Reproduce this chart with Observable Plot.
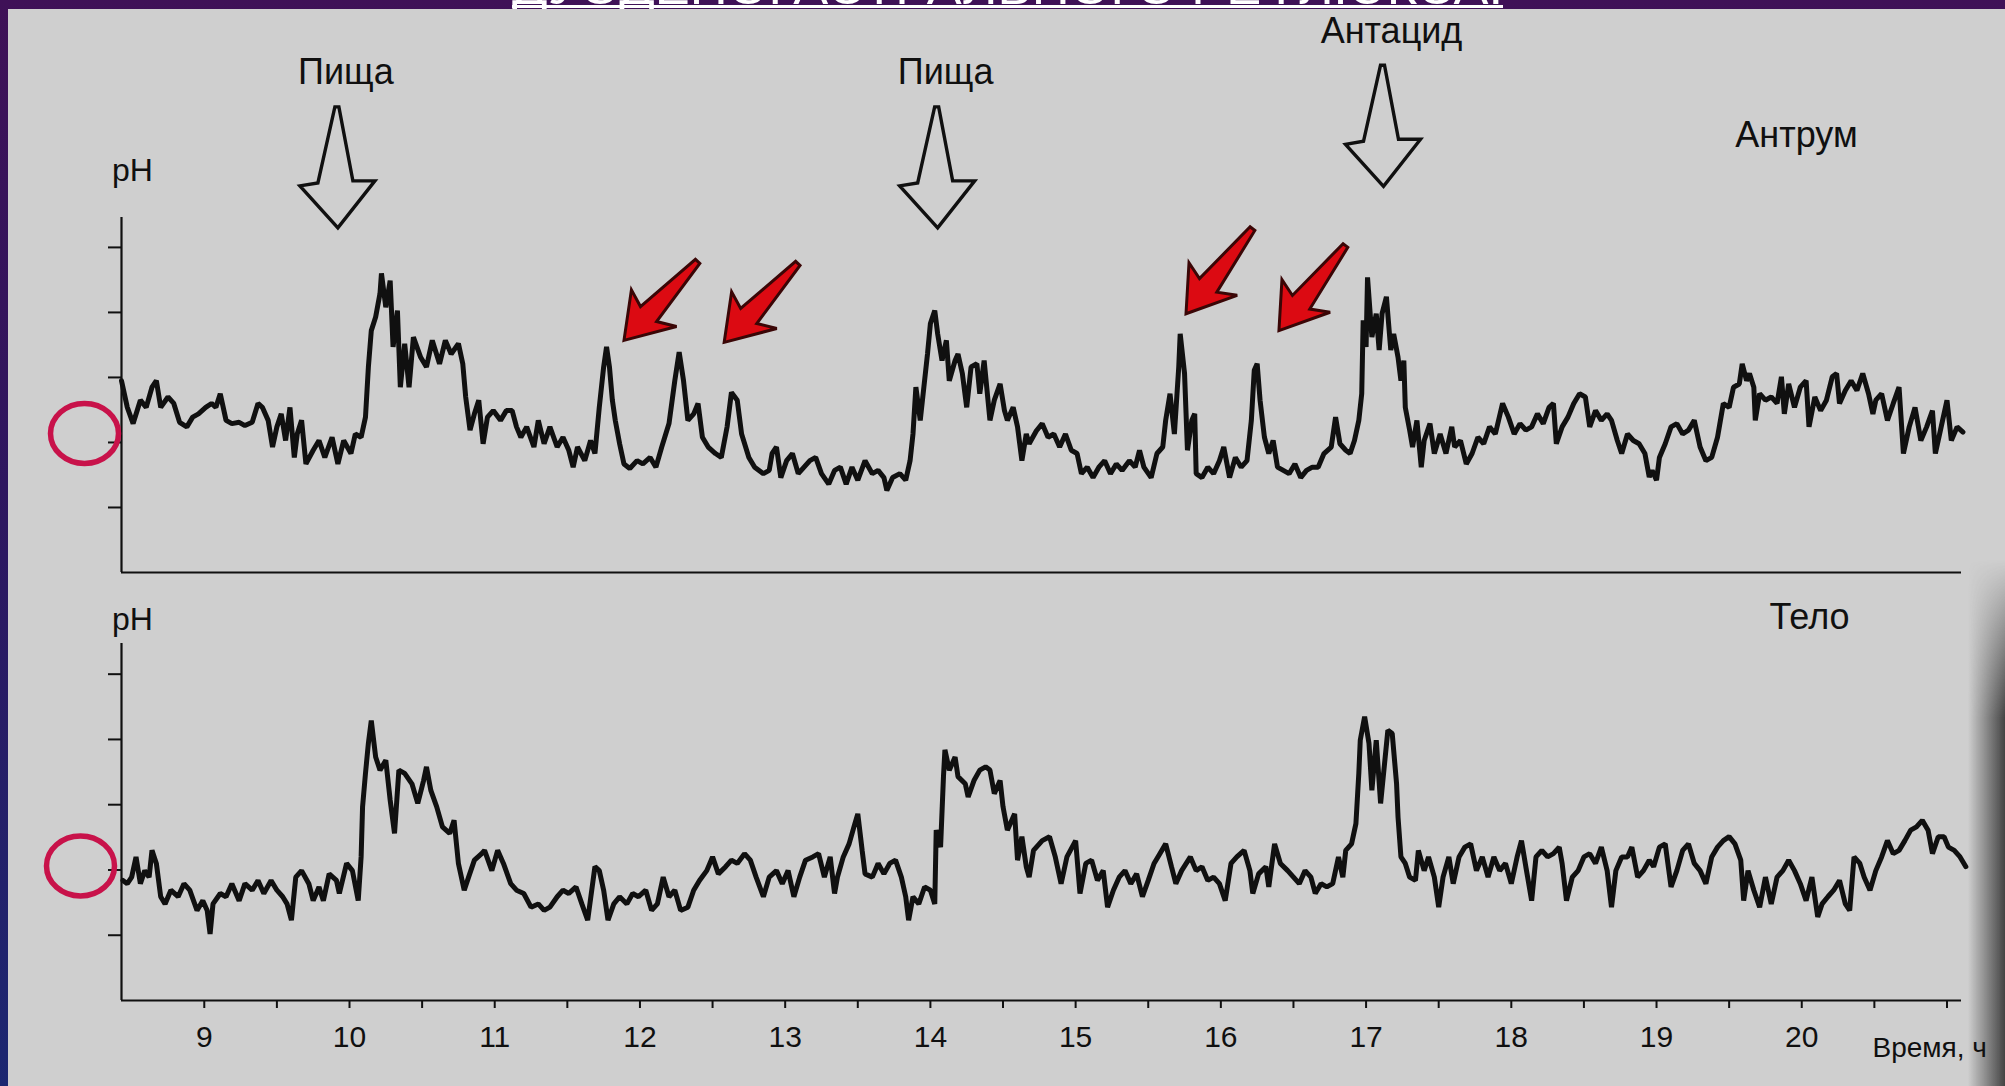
<!DOCTYPE html>
<html>
<head>
<meta charset="utf-8">
<script src="https://cdn.jsdelivr.net/npm/d3@7"></script>
<script src="https://cdn.jsdelivr.net/npm/@observablehq/plot@0.6"></script>
<style>
  html, body { margin: 0; padding: 0; width: 2005px; height: 1086px; overflow: hidden; }
  body { position: relative; background: linear-gradient(to bottom, #3f1157 0%, #2e165f 45%, #1c2771 100%); font-family: "Liberation Sans", Arial, sans-serif; }
  #sheet { position: absolute; left: 8px; top: 9px; right: 0; bottom: 0; background: #cfcfcf; }
  #shadow { position: absolute; left: 1968px; top: 560px; width: 37px; height: 526px;
    background: linear-gradient(to right, rgba(207,207,207,0), rgba(60,60,60,0.95));
    -webkit-mask-image: linear-gradient(to bottom, transparent, black 30%); mask-image: linear-gradient(to bottom, transparent, black 30%); }
  #title { position: absolute; left: 0; top: 0; }
  #top, #bottom { position: absolute; left: 0; }
  #top { top: 0; }
  #bottom { top: 590px; }
</style>
</head>
<body>
<div id="sheet"></div>
<div id="shadow"></div>
<svg id="title" width="2005" height="9">
  <text x="512" y="4" textLength="991" lengthAdjust="spacingAndGlyphs" fill="#ffffff" font-size="48" font-family="Liberation Sans, Arial, sans-serif">ДУОДЕНОГАСТРАЛЬНОГО РЕФЛЮКСА.</text>
  <rect x="512" y="5" width="991" height="3" fill="#ffffff"></rect>
</svg>
<div id="top"></div>
<div id="bottom"></div>
<script>
// ---------- DATA ----------
// Time of day (hours) on the x axis; pH on the y axis (unlabelled ticks 1..5)
const xTicks = [9, 9.5, 10, 10.5, 11, 11.5, 12, 12.5, 13, 13.5, 14, 14.5, 15, 15.5, 16, 16.5, 17, 17.5, 18, 18.5, 19, 19.5, 20, 20.5, 21];
const xTickLabels = [9, 10, 11, 12, 13, 14, 15, 16, 17, 18, 19, 20];
const yTicks = [1, 2, 3, 4, 5];
const circledTick = [2];

// Antrum pH trace [hour, pH]
const antrumPH = [
[8.43,2.95],[8.47,2.54],[8.51,2.29],[8.56,2.65],[8.60,2.54],[8.64,2.85],[8.67,2.95],[8.70,2.54],[8.75,2.70],[8.79,2.60],[8.83,2.31],[8.88,2.24],[8.92,2.39],[8.96,2.44],[9.01,2.54],[9.05,2.60],[9.08,2.54],[9.11,2.75],[9.15,2.34],[9.19,2.29],[9.24,2.31],[9.28,2.26],[9.33,2.31],[9.37,2.60],[9.40,2.54],[9.44,2.34],[9.47,1.93],[9.50,2.24],[9.53,2.44],[9.56,2.03],[9.59,2.54],[9.62,1.77],[9.64,2.13],[9.67,2.34],[9.70,1.67],[9.75,1.88],[9.79,2.03],[9.83,1.77],[9.88,2.08],[9.92,1.67],[9.96,2.03],[10.01,1.83],[10.04,2.13],[10.08,2.08],[10.11,2.39],[10.13,3.16],[10.15,3.72],[10.18,3.93],[10.21,4.29],[10.22,4.60],[10.25,4.08],[10.28,4.49],[10.30,3.47],[10.33,4.03],[10.35,2.85],[10.38,3.52],[10.41,2.85],[10.44,3.62],[10.49,3.31],[10.53,3.16],[10.57,3.57],[10.62,3.21],[10.66,3.57],[10.70,3.36],[10.75,3.52],[10.78,3.21],[10.80,2.70],[10.83,2.19],[10.86,2.44],[10.89,2.65],[10.92,1.98],[10.95,2.39],[10.99,2.49],[11.04,2.34],[11.08,2.49],[11.12,2.49],[11.15,2.24],[11.18,2.08],[11.22,2.24],[11.27,1.93],[11.30,2.34],[11.34,1.98],[11.38,2.24],[11.43,1.93],[11.47,2.08],[11.51,1.88],[11.54,1.62],[11.57,1.93],[11.62,1.72],[11.66,2.03],[11.69,1.83],[11.72,2.54],[11.75,3.16],[11.77,3.47],[11.79,3.16],[11.81,2.65],[11.83,2.34],[11.86,1.98],[11.89,1.67],[11.93,1.60],[11.98,1.72],[12.02,1.67],[12.07,1.77],[12.11,1.62],[12.15,1.93],[12.20,2.29],[12.24,2.95],[12.27,3.39],[12.30,2.95],[12.33,2.34],[12.37,2.44],[12.40,2.60],[12.43,2.08],[12.47,1.93],[12.52,1.83],[12.56,1.77],[12.60,2.24],[12.63,2.77],[12.67,2.65],[12.70,2.13],[12.75,1.77],[12.79,1.62],[12.85,1.52],[12.89,1.57],
[12.91,1.83],[12.94,1.93],[12.97,1.46],[13.01,1.72],[13.05,1.83],[13.09,1.52],[13.13,1.62],[13.17,1.72],[13.21,1.77],[13.25,1.52],[13.30,1.36],[13.34,1.57],[13.38,1.62],[13.42,1.36],[13.46,1.62],[13.50,1.42],[13.55,1.72],[13.60,1.52],[13.64,1.57],[13.68,1.46],[13.70,1.26],[13.74,1.46],[13.79,1.52],[13.83,1.42],[13.86,1.72],[13.88,2.13],[13.90,2.85],[13.93,2.34],[13.95,2.75],[13.98,3.36],[14.00,3.83],[14.03,4.03],[14.05,3.67],[14.08,3.26],[14.11,3.57],[14.13,2.95],[14.17,3.26],[14.19,3.36],[14.22,3.06],[14.25,2.54],[14.28,3.16],[14.32,3.21],[14.34,2.75],[14.37,3.26],[14.41,2.34],[14.44,2.65],[14.48,2.90],[14.51,2.49],[14.53,2.34],[14.57,2.54],[14.60,2.24],[14.63,1.72],[14.66,2.13],[14.68,1.98],[14.73,2.18],[14.77,2.29],[14.81,2.08],[14.85,2.13],[14.89,1.93],[14.93,2.13],[14.97,1.88],[15.01,1.83],[15.04,1.52],[15.08,1.62],[15.12,1.46],[15.16,1.62],[15.20,1.72],[15.24,1.52],[15.28,1.67],[15.32,1.57],[15.37,1.72],[15.41,1.62],[15.44,1.88],[15.47,1.62],[15.52,1.46],[15.56,1.83],[15.60,1.93],[15.62,2.34],[15.65,2.75],[15.68,2.13],[15.71,3.16],[15.72,3.67],[15.75,3.06],[15.77,1.88],[15.80,2.34],[15.82,2.44],[15.83,1.52],[15.87,1.46],[15.91,1.62],[15.95,1.52],[15.99,1.72],[16.02,1.93],[16.06,1.46],[16.10,1.77],[16.14,1.62],[16.18,1.72],[16.21,2.34],[16.23,3.11],[16.25,3.21],[16.27,2.65],[16.30,2.08],[16.33,1.83],[16.36,2.03],[16.39,1.62],[16.43,1.57],[16.47,1.52],[16.51,1.67],[16.55,1.46],[16.59,1.57],[16.63,1.62],[16.67,1.62],[16.71,1.83],[16.76,1.93],[16.79,2.39],[16.82,1.98],[16.86,1.88],[16.89,1.83],[16.92,2.03],[16.95,2.34],[16.97,2.75],[16.98,3.88],[17.00,3.47],[17.01,4.54],[17.04,3.62],[17.07,3.98],[17.09,3.42],
[17.11,3.98],[17.14,4.24],[17.17,3.42],[17.19,3.67],[17.22,3.31],[17.24,2.95],[17.26,3.26],[17.27,2.54],[17.30,2.19],[17.32,1.93],[17.35,2.34],[17.38,1.62],[17.40,2.03],[17.44,2.29],[17.47,1.83],[17.51,2.13],[17.55,1.83],[17.59,2.24],[17.61,1.93],[17.65,2.03],[17.69,1.67],[17.73,1.83],[17.77,2.08],[17.81,1.98],[17.85,2.24],[17.89,2.13],[17.94,2.60],[17.98,2.39],[18.02,2.13],[18.06,2.29],[18.10,2.19],[18.14,2.24],[18.18,2.44],[18.22,2.29],[18.26,2.54],[18.29,2.60],[18.31,1.98],[18.35,2.24],[18.39,2.39],[18.43,2.60],[18.47,2.75],[18.51,2.70],[18.54,2.24],[18.58,2.49],[18.62,2.34],[18.66,2.44],[18.69,2.34],[18.73,2.03],[18.76,1.83],[18.80,2.13],[18.84,2.03],[18.88,1.98],[18.92,1.83],[18.95,1.47],[18.97,1.57],[19.00,1.42],[19.02,1.77],[19.06,1.98],[19.10,2.24],[19.14,2.29],[19.18,2.13],[19.22,2.19],[19.26,2.34],[19.30,1.93],[19.34,1.72],[19.38,1.77],[19.42,2.08],[19.46,2.60],[19.50,2.54],[19.53,2.85],[19.57,2.90],[19.59,3.21],[19.62,2.95],[19.64,3.06],[19.67,2.85],[19.68,2.34],[19.71,2.75],[19.75,2.65],[19.79,2.70],[19.83,2.60],[19.86,3.01],[19.88,2.44],[19.91,2.90],[19.95,2.54],[19.99,2.85],[20.03,2.95],[20.05,2.24],[20.09,2.70],[20.13,2.49],[20.17,2.65],[20.21,3.01],[20.24,3.06],[20.26,2.60],[20.30,2.80],[20.34,2.95],[20.38,2.80],[20.42,3.06],[20.46,2.75],[20.49,2.44],[20.51,2.65],[20.55,2.75],[20.59,2.34],[20.63,2.60],[20.67,2.85],[20.70,1.83],[20.74,2.24],[20.78,2.54],[20.82,2.03],[20.86,2.24],[20.90,2.49],[20.92,1.83],[20.96,2.24],[21.00,2.65],[21.03,2.03],[21.07,2.24],[21.11,2.16]
];

// Corpus (body of stomach) pH trace [hour, pH]
const corpusPH = [
[8.44,1.84],[8.47,1.79],[8.50,1.89],[8.53,2.20],[8.56,1.79],[8.59,1.99],[8.62,1.89],[8.64,2.30],[8.67,2.10],[8.70,1.59],[8.73,1.48],[8.77,1.69],[8.82,1.59],[8.86,1.79],[8.90,1.69],[8.95,1.38],[8.99,1.53],[9.02,1.38],[9.04,1.02],[9.06,1.48],[9.11,1.64],[9.15,1.59],[9.19,1.79],[9.24,1.53],[9.28,1.79],[9.33,1.69],[9.37,1.84],[9.41,1.64],[9.46,1.84],[9.50,1.69],[9.54,1.59],[9.57,1.48],[9.60,1.23],[9.63,1.89],[9.67,1.99],[9.72,1.79],[9.75,1.53],[9.79,1.74],[9.82,1.53],[9.86,1.94],[9.91,1.84],[9.93,1.64],[9.98,2.10],[10.02,1.99],[10.06,1.53],[10.08,2.20],[10.09,2.97],[10.11,3.48],[10.13,3.94],[10.15,4.29],[10.18,3.73],[10.21,3.53],[10.25,3.68],[10.28,3.07],[10.31,2.56],[10.34,3.53],[10.38,3.48],[10.43,3.32],[10.47,3.02],[10.51,3.37],[10.53,3.58],[10.56,3.22],[10.60,2.97],[10.64,2.66],[10.69,2.56],[10.72,2.76],[10.75,2.10],[10.79,1.69],[10.82,1.89],[10.86,2.15],[10.91,2.25],[10.93,2.30],[10.98,1.99],[11.02,2.30],[11.06,2.10],[11.11,1.79],[11.15,1.69],[11.20,1.64],[11.25,1.43],[11.30,1.48],[11.34,1.38],[11.38,1.43],[11.43,1.59],[11.47,1.69],[11.51,1.64],[11.56,1.74],[11.60,1.48],[11.64,1.23],[11.69,2.05],[11.72,1.99],[11.75,1.69],[11.78,1.23],[11.82,1.48],[11.86,1.59],[11.91,1.48],[11.95,1.64],[11.99,1.59],[12.04,1.69],[12.08,1.38],[12.12,1.48],[12.16,1.89],[12.20,1.59],[12.24,1.69],[12.28,1.38],[12.33,1.43],[12.37,1.69],[12.41,1.84],[12.46,1.99],[12.50,2.20],[12.54,1.94],[12.59,2.05],[12.63,2.15],[12.67,2.10],[12.72,2.25],[12.76,2.15],[12.80,1.89],[12.85,1.59],[12.89,1.89],
[12.94,1.99],[12.98,1.79],[13.02,1.99],[13.06,1.59],[13.10,1.89],[13.14,2.15],[13.19,2.20],[13.23,2.25],[13.27,1.89],[13.31,2.20],[13.34,1.64],[13.36,1.89],[13.40,2.20],[13.44,2.40],[13.48,2.71],[13.50,2.86],[13.53,2.30],[13.55,1.94],[13.60,1.89],[13.64,2.10],[13.68,1.94],[13.72,2.10],[13.76,2.15],[13.80,1.89],[13.83,1.59],[13.85,1.23],[13.88,1.59],[13.92,1.48],[13.96,1.74],[14.00,1.69],[14.03,1.48],[14.04,2.61],[14.07,2.35],[14.09,3.43],[14.10,3.84],[14.13,3.53],[14.17,3.73],[14.19,3.43],[14.24,3.32],[14.26,3.12],[14.30,3.37],[14.34,3.53],[14.38,3.58],[14.41,3.53],[14.44,3.17],[14.48,3.37],[14.50,2.97],[14.53,2.61],[14.58,2.86],[14.60,2.15],[14.63,2.51],[14.66,2.05],[14.68,1.89],[14.71,2.30],[14.77,2.45],[14.82,2.51],[14.86,2.20],[14.90,1.79],[14.94,2.20],[15.00,2.45],[15.03,1.64],[15.07,2.10],[15.11,2.15],[15.15,1.84],[15.19,1.99],[15.22,1.43],[15.26,1.69],[15.30,1.89],[15.34,1.99],[15.38,1.79],[15.42,1.94],[15.46,1.59],[15.50,1.84],[15.54,2.10],[15.58,2.25],[15.62,2.40],[15.66,2.05],[15.69,1.79],[15.73,1.99],[15.79,2.20],[15.83,1.99],[15.87,2.05],[15.91,1.84],[15.95,1.89],[15.99,1.79],[16.03,1.53],[16.07,2.10],[16.11,2.20],[16.16,2.30],[16.20,1.99],[16.22,1.64],[16.26,1.94],[16.31,2.05],[16.33,1.74],[16.37,2.40],[16.41,2.10],[16.46,1.99],[16.50,1.89],[16.54,1.79],[16.58,1.99],[16.62,1.89],[16.65,1.64],[16.69,1.79],[16.73,1.74],[16.77,1.79],[16.81,2.20],[16.84,1.89],[16.86,2.30],[16.90,2.40],[16.93,2.71],[16.95,3.48],[16.96,3.99],[16.99,4.35],[17.02,3.94],[17.04,3.22],[17.07,3.99],[17.10,3.02],
[17.15,4.14],[17.18,4.09],[17.21,3.32],[17.22,2.81],[17.24,2.20],[17.27,2.10],[17.30,1.89],[17.34,1.84],[17.36,2.30],[17.40,1.99],[17.43,2.20],[17.47,1.89],[17.50,1.43],[17.53,1.89],[17.57,2.20],[17.60,1.79],[17.64,2.20],[17.68,2.35],[17.72,2.40],[17.76,1.99],[17.80,2.20],[17.84,1.89],[17.88,2.20],[17.92,1.99],[17.96,2.10],[18.00,1.79],[18.04,2.20],[18.07,2.45],[18.10,2.05],[18.14,1.53],[18.17,2.20],[18.21,2.30],[18.25,2.20],[18.29,2.25],[18.33,2.35],[18.35,2.10],[18.38,1.53],[18.42,1.89],[18.46,1.99],[18.50,2.20],[18.54,2.25],[18.58,2.10],[18.62,2.35],[18.66,1.99],[18.69,1.43],[18.72,1.99],[18.76,2.20],[18.80,2.20],[18.83,2.35],[18.87,1.89],[18.91,1.99],[18.95,2.15],[18.98,2.05],[19.02,2.35],[19.06,2.40],[19.10,1.74],[19.14,1.99],[19.18,2.30],[19.22,2.40],[19.26,2.10],[19.30,1.99],[19.34,1.79],[19.38,2.20],[19.42,2.35],[19.46,2.45],[19.50,2.51],[19.54,2.40],[19.58,2.15],[19.60,1.53],[19.63,1.99],[19.67,1.69],[19.71,1.43],[19.75,1.89],[19.79,1.48],[19.83,1.89],[19.87,1.99],[19.91,2.15],[19.95,1.99],[19.99,1.79],[20.03,1.53],[20.07,1.89],[20.11,1.28],[20.14,1.48],[20.18,1.59],[20.22,1.69],[20.26,1.84],[20.30,1.48],[20.33,1.38],[20.36,2.20],[20.40,2.10],[20.43,1.89],[20.47,1.69],[20.51,1.99],[20.55,2.20],[20.59,2.45],[20.63,2.25],[20.67,2.30],[20.71,2.45],[20.75,2.61],[20.79,2.66],[20.83,2.76],[20.87,2.61],[20.90,2.25],[20.94,2.51],[20.98,2.51],[21.01,2.35],[21.05,2.30],[21.09,2.20],[21.13,2.05]
];

// Events (meals, antacid) — hour at which each was given
const eventLabels = ["Пища", "Пища", "Антацид"];
const eventTimes = [9.92, 14.05, 17.12];

// Reflux episodes pointed at by red arrows: arrow tip [hour, pH] and direction (degrees)
const refluxTips = [[11.89, 3.57], [12.58, 3.54], [15.76, 3.98], [16.40, 3.72]];
const refluxDir = [43, 43, 38, 38];

const panelNames = ["Антрум", "Тело"];
const xLabel = "Время, ч";
const yLabel = "pH";

// ---------- BUILD ----------
const events = eventLabels.map((label, i) => ({label, t: eventTimes[i]}));
const reflux = refluxTips.map(([t, ph], i) => ({t, ph, dir: refluxDir[i]}));
const X_DOMAIN = [8.43, 21.1];
const INK = "#101010";
const FONT = "Liberation Sans, Arial, sans-serif";

const ellipse = {draw(ctx) {
  const rx = 34, ry = 30, k = 0.5523;
  ctx.moveTo(rx, 0);
  ctx.bezierCurveTo(rx, k * ry, k * rx, ry, 0, ry);
  ctx.bezierCurveTo(-k * rx, ry, -rx, k * ry, -rx, 0);
  ctx.bezierCurveTo(-rx, -k * ry, -k * rx, -ry, 0, -ry);
  ctx.bezierCurveTo(k * rx, -ry, rx, -k * ry, rx, 0);
  ctx.closePath();
}};

const hollowArrow = {draw(ctx) {
  const pts = [[-3, -121], [1, -121], [15, -47], [37, -47], [0, 0], [-38, -42], [-20, -45]];
  pts.forEach(([x, y], i) => i ? ctx.lineTo(x, y) : ctx.moveTo(x, y));
  ctx.closePath();
}};

function redArrow(angle) {
  const a = angle * Math.PI / 180, c = Math.cos(a), s = Math.sin(a);
  const pts = [[0, 0], [29, -46], [11, -36], [3, -108], [-3, -108], [-11, -36], [-29, -42]];
  return {draw(ctx) {
    pts.forEach(([x, y], i) => {
      const X = x * c - y * s, Y = x * s + y * c;
      i ? ctx.lineTo(X, Y) : ctx.moveTo(X, Y);
    });
    ctx.closePath();
  }};
}

const tipLevel = d => d.label === "Антацид" ? 5.94 : 5.30;
const style = {background: "transparent", fontFamily: FONT, color: INK, overflow: "visible"};
const LINE_W = 5;

const topChart = Plot.plot({
  width: 2005, height: 590,
  marginLeft: 121, marginRight: 44, marginTop: 217, marginBottom: 18,
  style,
  x: {domain: X_DOMAIN, axis: null},
  y: {domain: [0, 5.46]},
  marks: [
    Plot.axisY({ticks: yTicks, tickSize: 13, tickFormat: () => "", label: null, strokeWidth: 2, stroke: INK}),
    Plot.ruleX([X_DOMAIN[0]], {stroke: INK, strokeWidth: 2.2}),
    Plot.ruleY([0], {stroke: INK, strokeWidth: 2.2}),
    Plot.line(antrumPH, {x: d => d[0], y: d => d[1], stroke: INK, strokeWidth: LINE_W, strokeLinejoin: "miter"}),
    Plot.dot(circledTick, {x: () => X_DOMAIN[0], y: d => d, dx: -37, dy: -9, symbol: ellipse, fill: "none", stroke: "#c8124a", strokeWidth: 5.5}),
    Plot.text([yLabel], {text: d => d, frameAnchor: "top-left", textAnchor: "middle", lineAnchor: "middle", dx: 11, dy: -47, fontSize: 32, fill: INK}),
    Plot.text([panelNames[0]], {text: d => d, frameAnchor: "top-right", textAnchor: "middle", lineAnchor: "middle", dx: -165, dy: -82, fontSize: 36, fill: INK}),
    Plot.dot(events, {x: "t", y: tipLevel, symbol: hollowArrow, fill: "none", stroke: INK, strokeWidth: 3.4}),
    Plot.text(events, {x: "t", y: tipLevel, text: "label", dx: 8, dy: -155, fontSize: 36, fill: INK}),
    ...reflux.map(d => Plot.dot([d], {x: "t", y: "ph", symbol: redArrow(d.dir), fill: "#dc0a12", stroke: "#3a0606", strokeWidth: 3}))
  ]
});

const bottomChart = Plot.plot({
  width: 2005, height: 496,
  marginLeft: 121, marginRight: 44, marginTop: 53, marginBottom: 86,
  style,
  x: {domain: X_DOMAIN},
  y: {domain: [0, 5.47]},
  marks: [
    Plot.axisY({ticks: yTicks, tickSize: 13, tickFormat: () => "", label: null, strokeWidth: 2, stroke: INK}),
    Plot.axisX({ticks: xTicks, tickSize: 8, tickPadding: 17, tickFormat: d => xTickLabels.includes(d) ? String(d) : "", label: null, fontSize: 30, strokeWidth: 2, stroke: INK, fill: INK}),
    Plot.ruleX([X_DOMAIN[0]], {stroke: INK, strokeWidth: 2.2}),
    Plot.ruleY([0], {stroke: INK, strokeWidth: 2.2}),
    Plot.line(corpusPH, {x: d => d[0], y: d => d[1], stroke: INK, strokeWidth: LINE_W, strokeLinejoin: "miter"}),
    Plot.dot(circledTick, {x: () => X_DOMAIN[0], y: d => d, dx: -41, dy: -4, symbol: ellipse, fill: "none", stroke: "#c8124a", strokeWidth: 5.5}),
    Plot.text([yLabel], {text: d => d, frameAnchor: "top-left", textAnchor: "middle", lineAnchor: "middle", dx: 11, dy: -24, fontSize: 32, fill: INK}),
    Plot.text([panelNames[1]], {text: d => d, frameAnchor: "top-right", textAnchor: "middle", lineAnchor: "middle", dx: -152, dy: -26, fontSize: 36, fill: INK}),
    Plot.text([xLabel], {text: d => d, frameAnchor: "bottom-right", textAnchor: "start", lineAnchor: "middle", dx: -89, dy: 48, fontSize: 28, fill: INK})
  ]
});

document.getElementById("top").appendChild(topChart);
document.getElementById("bottom").appendChild(bottomChart);
</script>
</body>
</html>
